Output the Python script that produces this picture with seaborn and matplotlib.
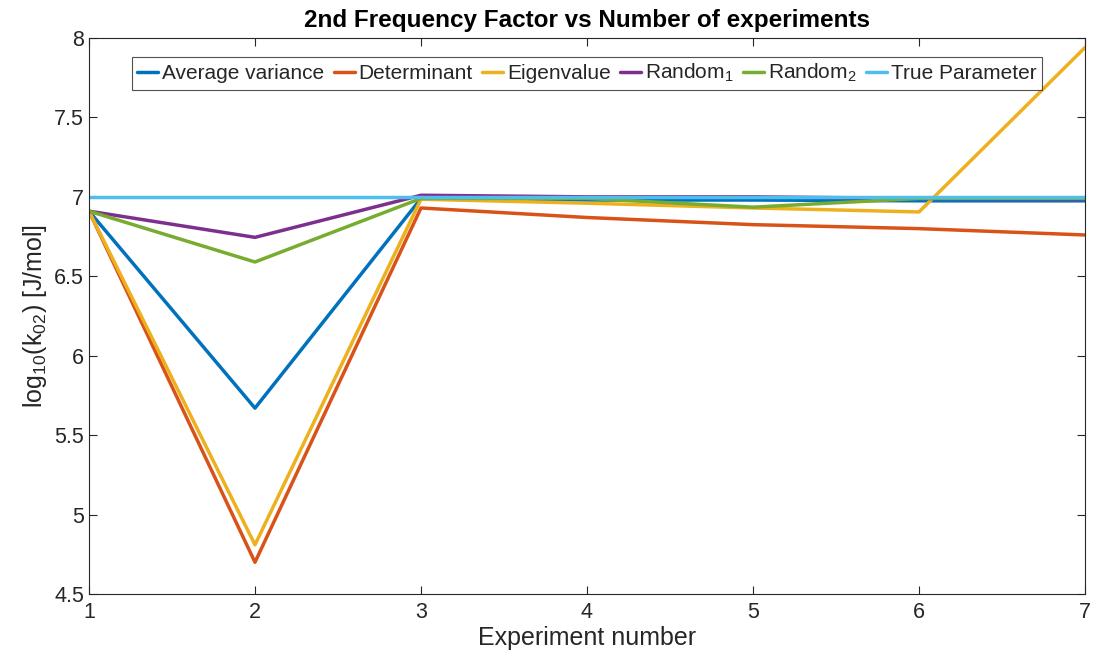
import numpy as np
import pandas as pd
import matplotlib
matplotlib.use("Agg")
import matplotlib.pyplot as plt
import seaborn as sns
from matplotlib.lines import Line2D

experiments = [1, 2, 3, 4, 5, 6, 7]
avg_variance = [6.91, 5.67, 6.99, 6.98, 6.98, 6.975, 6.975]
determinant = [6.91, 4.70, 6.93, 6.87, 6.825, 6.80, 6.76]
eigenvalue = [6.91, 4.81, 6.985, 6.96, 6.93, 6.905, 7.94]
random1 = [6.91, 6.745, 7.01, 7.00, 7.00, 6.99, 6.985]
random2 = [6.91, 6.59, 6.99, 6.99, 6.935, 6.99, 6.99]
true_param = [7.0] * 7

series_names = ["Average variance", "Determinant", "Eigenvalue",
                r"Random$_1$", r"Random$_2$", "True Parameter"]
series_values = [avg_variance, determinant, eigenvalue, random1, random2, true_param]
colors = ["#0072BD", "#D95319", "#EDB120", "#7E2F8E", "#77AC30", "#4DBEEE"]

sns.set_theme(style="white")
plt.rcParams['font.family'] = ['Liberation Sans', 'DejaVu Sans']
plt.rcParams['mathtext.fontset'] = 'custom'
plt.rcParams['mathtext.rm'] = 'Liberation Sans'
plt.rcParams['mathtext.it'] = 'Liberation Sans'

rows = []
for name, vals in zip(series_names, series_values):
    for x, v in zip(experiments, vals):
        rows.append({"Experiment": x, "value": v, "series": name})
df = pd.DataFrame(rows)

fig = plt.figure(figsize=(10.93, 6.64), dpi=100)
ax = fig.add_axes([0.0814, 0.1054, 0.9113, 0.8374])
sns.lineplot(data=df, x="Experiment", y="value", hue="series",
             palette=dict(zip(series_names, colors)), hue_order=series_names,
             linewidth=2.5, ax=ax, legend=False)

ax.set_xlim(1, 7)
ax.set_ylim(4.5, 8)
ax.set_xticks(experiments)
ax.set_yticks([4.5, 5, 5.5, 6, 6.5, 7, 7.5, 8])
ax.set_yticklabels(["4.5", "5", "5.5", "6", "6.5", "7", "7.5", "8"])
ax.tick_params(axis='both', direction='in', length=6, width=0.8, colors='#262626',
               labelsize=15.5, labelcolor='#262626', top=True, right=True,
               bottom=True, left=True)
ax.tick_params(axis='x', pad=6)
for s in ax.spines.values():
    s.set_color('#262626')
    s.set_linewidth(0.8)
ax.set_xlabel("Experiment number", fontsize=18, color='#262626', labelpad=2)
ax.set_ylabel(r"log$_{10}$(k$_{02}$) [J/mol]", fontsize=18, color='#262626')
ax.set_title("2nd Frequency Factor vs Number of experiments", fontsize=17.5,
             fontweight='bold', color='black', pad=8)

handles = [Line2D([0], [0], color=c, lw=2.5) for c in colors]
leg = ax.legend(handles, series_names, loc='upper center', ncol=6,
                bbox_to_anchor=(0.5, 0.966), frameon=True, fontsize=15,
                handlelength=1.0, handletextpad=0.2, columnspacing=0.45,
                borderpad=0.25, borderaxespad=0.0, fancybox=False, edgecolor='#262626')
leg.get_frame().set_linewidth(0.8)

fig.savefig("out.png", dpi=100)
